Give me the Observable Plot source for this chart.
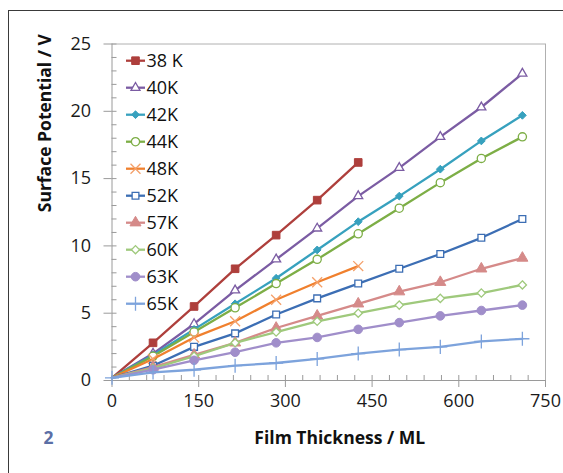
<!DOCTYPE html>
<html><head><meta charset="utf-8">
<script src="https://cdn.jsdelivr.net/npm/d3@7"></script>
<script src="https://cdn.jsdelivr.net/npm/@observablehq/plot@0.6"></script>
<style>
body{margin:0;background:#fff;}
#wrap{position:relative;width:563px;height:473px;overflow:hidden;background:#fff;}
#frame{position:absolute;left:8px;top:10px;right:-5px;bottom:-5px;border-left:1.5px solid #3a3a3a;border-top:1.5px solid #3a3a3a;pointer-events:none;}
</style></head><body>
<div id="wrap"><div id="chart"></div><div id="frame"></div></div>
<script>
// ---- data ----
const thickness = [0, 71, 142, 213, 284, 355, 426, 497, 568, 639, 710];
const seriesNames = ["38 K", "40K", "42K", "44K", "48K", "52K", "57K", "60K", "63K", "65K"];
const v38 = [0.2, 2.8, 5.5, 8.3, 10.8, 13.4, 16.2];
const v40 = [0.2, 2.0, 4.2, 6.7, 9.0, 11.3, 13.7, 15.8, 18.1, 20.3, 22.8];
const v42 = [0.2, 1.9, 3.8, 5.7, 7.6, 9.7, 11.8, 13.7, 15.7, 17.8, 19.7];
const v44 = [0.2, 1.8, 3.6, 5.4, 7.2, 9.0, 10.9, 12.8, 14.7, 16.5, 18.1];
const v48 = [0.2, 1.6, 3.2, 4.4, 6.0, 7.3, 8.5];
const v52 = [0.2, 1.1, 2.5, 3.5, 4.9, 6.1, 7.2, 8.3, 9.4, 10.6, 12.0];
const v57 = [0.2, 1.0, 1.9, 2.8, 3.9, 4.8, 5.7, 6.6, 7.3, 8.3, 9.1];
const v60 = [0.2, 0.9, 1.8, 2.8, 3.6, 4.4, 5.0, 5.6, 6.1, 6.5, 7.1];
const v63 = [0.2, 0.8, 1.5, 2.1, 2.8, 3.2, 3.8, 4.3, 4.8, 5.2, 5.6];
const v65 = [0.2, 0.6, 0.8, 1.1, 1.3, 1.6, 2.0, 2.3, 2.5, 2.9, 3.1];
const seriesValues = [v38, v40, v42, v44, v48, v52, v57, v60, v63, v65];
const xTicks = [0, 150, 300, 450, 600, 750];
const yTicks = [0, 5, 10, 15, 20, 25];
const xLabel = "Film Thickness / ML";
const yLabel = "Surface Potential / V";
const panelLabel = "2";

// ---- styles ----
const colors = ["#AE3F3C", "#7B5CA3", "#37A1BE", "#7DAE46", "#F0802E", "#3C6EB4", "#D58A89", "#9FC97C", "#A08ECA", "#7DA3DC"];
const marks = [
  {symbol: "square", open: false, r: 4.3},
  {symbol: "triangle2", open: true, r: 4.3},
  {symbol: "diamond2", open: false, r: 3.5},
  {symbol: "circle", open: true, r: 4.1},
  {symbol: "times", open: true, r: 4.6, stroke: "#F4A06A"},
  {symbol: "square2", open: true, r: 4.3},
  {symbol: "triangle", open: false, r: 4.1},
  {symbol: "diamond2", open: true, r: 3.7},
  {symbol: "circle", open: false, r: 4.3},
  {symbol: "plus", open: true, r: 4.6}
];

const data = [];
seriesNames.forEach((s, i) => seriesValues[i].forEach((v, j) => data.push({series: s, x: thickness[j], y: v})));

const W = 563, H = 473;
const mL = 111.5, mR = 18, mT = 43.5, mB = 93;
const pw = W - mL - mR, ph = H - mT - mB;
const axisGray = "#9a9a9a";
const font = "'Open Sans', sans-serif";

const plotMarks = [
  // minor ticks inside
  Plot.tickX(d3.range(0, 751, 30), {x: d => d, insetTop: ph - 5, stroke: axisGray}),
  Plot.tickY(d3.range(0, 26, 1), {y: d => d, insetRight: pw - 5, stroke: axisGray}),
  // frame lines
  Plot.ruleY([25], {stroke: "#b0b0b0"}),
  Plot.ruleX([750], {stroke: "#b0b0b0"}),
  Plot.ruleX([0], {stroke: axisGray}),
  Plot.ruleY([0], {stroke: axisGray}),
  Plot.axisX({ticks: xTicks, tickSize: 7, tickPadding: 7, stroke: axisGray, fill: "#1a1a1a", fontSize: 18, label: null}),
  Plot.axisY({ticks: yTicks, tickSize: 8, tickPadding: 13, stroke: axisGray, fill: "#1a1a1a", fontSize: 18, label: null})
];

seriesNames.forEach((s, i) => {
  const c = colors[i], m = marks[i];
  const sd = data.filter(d => d.series === s);
  plotMarks.push(Plot.line(sd, {x: "x", y: "y", stroke: c, strokeWidth: 2.3}));
  const dd = sd.filter(d => d.x > 0 || i === 9);
  plotMarks.push(Plot.dot(dd, {
    x: "x", y: "y", symbol: m.symbol, r: m.r,
    fill: m.symbol === "times" || m.symbol === "plus" ? "none" : (m.open ? "white" : c),
    stroke: m.stroke || c, strokeWidth: m.open ? 1.3 : 1
  }));
});

plotMarks.push(
  Plot.text([yLabel], {text: d => d, frameAnchor: "left", dx: 45 - mL, rotate: -90, fontSize: 17.5, fontWeight: "bold", fill: "#111"}),
  Plot.text([xLabel], {text: d => d, frameAnchor: "bottom", dx: 11, dy: 63, fontSize: 17.5, fontWeight: "bold", fill: "#111"}),
  Plot.text([panelLabel], {text: d => d, frameAnchor: "bottom-left", dx: 43 - mL, dy: 63, fontSize: 17.5, fontWeight: "bold", fill: "#5B6FA6"})
);

const chart = Plot.plot({
  width: W, height: H,
  marginLeft: mL, marginRight: mR, marginTop: mT, marginBottom: mB,
  x: {domain: [0, 750]},
  y: {domain: [0, 25]},
  style: {fontFamily: font, background: "white", overflow: "visible"},
  marks: plotMarks
});
document.getElementById("chart").appendChild(chart);

// ---- legend ----
const symMap = {square: d3.symbolSquare, triangle2: d3.symbolTriangle2, diamond2: d3.symbolDiamond2, circle: d3.symbolCircle,
  times: d3.symbolTimes, square2: d3.symbolSquare2, triangle: d3.symbolTriangle, plus: d3.symbolPlus};
const svg = d3.select(chart);
const lg = svg.append("g").attr("font-family", font).attr("font-size", 18).attr("text-anchor", "start");
seriesNames.forEach((s, i) => {
  const c = colors[i], m = marks[i];
  const cy = mT + 17.2 + 27 * i;
  const g = lg.append("g").attr("transform", `translate(0,${cy})`);
  g.append("line").attr("x1", 126).attr("x2", 145).attr("y1", 0).attr("y2", 0).attr("stroke", c).attr("stroke-width", 2.3);
  g.append("path").attr("transform", "translate(135.5,0)")
    .attr("d", d3.symbol(symMap[m.symbol], Math.PI * m.r * m.r)())
    .attr("fill", m.symbol === "times" || m.symbol === "plus" ? "none" : (m.open ? "white" : c))
    .attr("stroke", m.stroke || c).attr("stroke-width", m.open ? 1.3 : 1);
  g.append("text").attr("x", 146.5).attr("y", 0).attr("dy", "0.35em").attr("fill", "#111").text(s);
});
</script>
</body></html>
